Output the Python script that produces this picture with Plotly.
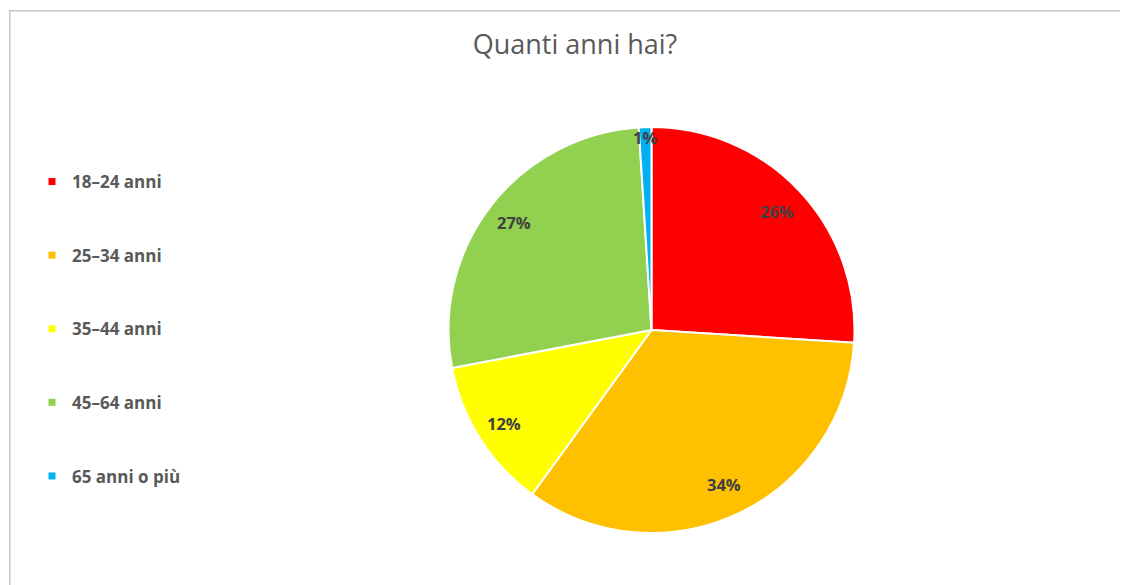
import math
import plotly.graph_objects as go

# ---- data ----
categories = ["18–24 anni", "25–34 anni", "35–44 anni", "45–64 anni", "65 anni o più"]
values = [26, 34, 12, 27, 1]
title_text = "Quanti anni hai?"

# ---- style ----
colors = ["#FF0000", "#FFC000", "#FFFF00", "#92D050", "#00B0F0"]
label_radius = [0.85, 0.84, 0.86, 0.86, 0.95]
W, H = 1128, 585
OFF = 8  # page body margin
CX, CY, R = 651.5 - OFF, 330.0 - OFF, 203.0
text_color = "#595959"
label_color = "#404040"
FONT = "Open Sans"

fig = go.Figure()

fig.add_trace(go.Pie(
    labels=categories,
    values=values,
    sort=False,
    direction="clockwise",
    rotation=0,
    marker=dict(colors=colors, line=dict(color="white", width=2)),
    textinfo="none",
    hoverinfo="label+percent",
    showlegend=False,
    domain=dict(x=[(CX - R) / W, (CX + R) / W], y=[1 - (CY + R) / H, 1 - (CY - R) / H]),
))

# legend entries via dummy traces (to get the wide spacing)
for i, (cat, col) in enumerate(zip(categories, colors)):
    fig.add_trace(go.Scatter(
        x=[None], y=[None], mode="markers", name=cat,
        marker=dict(symbol="square", size=7, color=col),
        legendgroup=f"g{i}", showlegend=True,
    ))

# percentage labels computed from data
total = sum(values)
cum = 0
annotations = []
for v, f in zip(values, label_radius):
    mid = 2 * math.pi * (cum + v / 2) / total
    cum += v
    px = CX + R * f * math.sin(mid)
    py = CY - R * f * math.cos(mid)
    annotations.append(dict(
        x=px / W, y=1 - py / H, xref="paper", yref="paper",
        text=f"<b>{round(100 * v / total)}%</b>", showarrow=False,
        font=dict(family=FONT, size=16.5, color=label_color),
        xanchor="center", yanchor="middle",
    ))

fig.update_layout(
    width=W, height=H,
    margin=dict(l=0, r=0, t=0, b=0),
    paper_bgcolor="white", plot_bgcolor="white",
    title=dict(text=title_text, x=(575 - OFF) / W, xanchor="center", y=1 - (45 - OFF) / H, yanchor="middle",
               font=dict(family=FONT, size=27, color=text_color)),
    xaxis=dict(visible=False), yaxis=dict(visible=False),
    legend=dict(x=24 / W, xanchor="left", y=1 - 156 / H, yanchor="top",
                font=dict(family=FONT, size=17, color=text_color, weight="bold"),
                tracegroupgap=48.5, bgcolor="rgba(0,0,0,0)"),
    annotations=annotations,
    shapes=[dict(type="rect", xref="paper", yref="paper",
                 x0=1.75 / W, x1=1.05, y0=-0.05, y1=1 - 2.75 / H,
                 line=dict(color="#C8C8C8", width=1.5), fillcolor="rgba(0,0,0,0)", layer="below")],
)

fig.write_html("out.html")
